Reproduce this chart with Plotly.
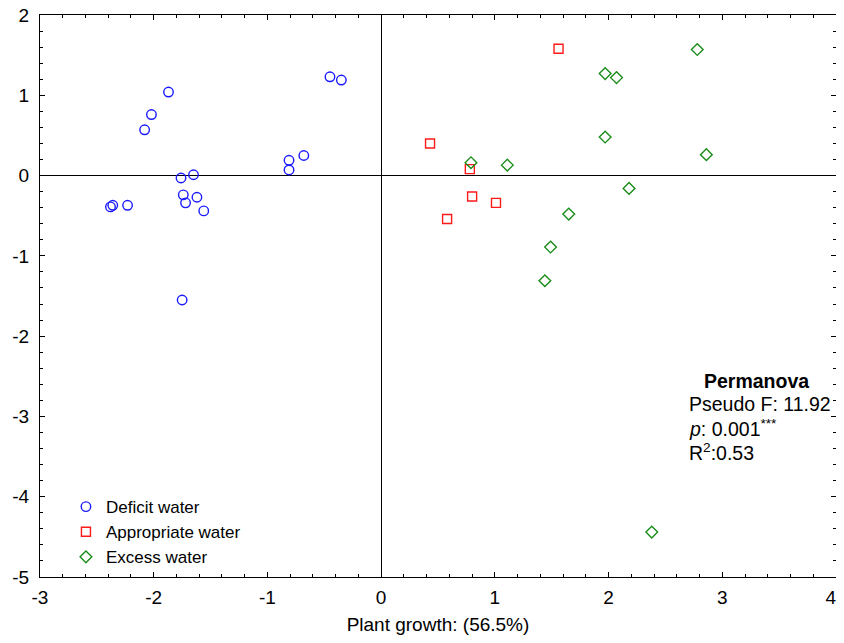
import plotly.graph_objects as go

# Deficit water
deficit_x = [-0.45, -0.35, -1.87, -2.02, -2.08, -0.68, -0.81, -0.81, -1.65, -1.76, -1.74, -1.62, -1.72, -1.56, -2.23, -2.36, -2.38, -1.75]
deficit_y = [1.23, 1.19, 1.04, 0.76, 0.57, 0.25, 0.19, 0.07, 0.01, -0.03, -0.24, -0.27, -0.34, -0.44, -0.37, -0.37, -0.39, -1.55]
# Appropriate water
approp_x = [1.56, 0.43, 0.78, 0.80, 1.01, 0.58]
approp_y = [1.58, 0.40, 0.08, -0.26, -0.34, -0.54]
# Excess water
excess_x = [2.78, 1.97, 2.07, 1.97, 2.86, 0.79, 1.11, 2.18, 1.65, 1.49, 1.44, 2.38]
excess_y = [1.57, 1.27, 1.22, 0.48, 0.26, 0.16, 0.13, -0.16, -0.48, -0.89, -1.31, -4.44]

x_ticks = [-3, -2, -1, 0, 1, 2, 3, 4]
x_tick_labels = ["-3", "-2", "-1", "0", "1", "2", "3", "4\u00a0\u00a0"]
y_ticks = [2, 1, 0, -1, -2, -3, -4, -5]

FONT = "Liberation Sans, Arial, sans-serif"

fig = go.Figure()
fig.add_trace(go.Scatter(x=deficit_x, y=deficit_y, mode="markers", name="Deficit water",
                         marker=dict(symbol="circle-open", size=9.5, color="#1a1aff", line=dict(width=1.4))))
fig.add_trace(go.Scatter(x=approp_x, y=approp_y, mode="markers", name="Appropriate water",
                         marker=dict(symbol="square-open", size=9, color="#ff1a1a", line=dict(width=1.4))))
fig.add_trace(go.Scatter(x=excess_x, y=excess_y, mode="markers", name="Excess water",
                         marker=dict(symbol="diamond-open", size=9, color="#1a8c1a", line=dict(width=1.4))))

axis_common = dict(
    showgrid=False, zeroline=True, zerolinecolor="black", zerolinewidth=1,
    showline=True, linecolor="black", linewidth=1.2, mirror="allticks",
    ticks="inside", ticklen=5, tickcolor="black", tickwidth=1,
    minor=dict(ticks="inside", ticklen=3, dtick=0.2, tickcolor="black", tickwidth=1),
    tickfont=dict(family=FONT, size=19, color="black"),
    automargin=False, ticklabeloverflow="allow",
)

fig.update_xaxes(range=[-3, 4], tickvals=x_ticks, ticktext=x_tick_labels,
                 ticklabelstandoff=3,
                 title=dict(text="Plant growth: (56.5%)", font=dict(family=FONT, size=19, color="black"), standoff=16),
                 **axis_common)
fig.update_yaxes(range=[-5, 2], tickvals=y_ticks, ticktext=[str(v) for v in y_ticks],
                 ticklabelstandoff=6, **axis_common)

ann_font = dict(family=FONT, size=19.5, color="black")
fig.add_annotation(x=3.30, y=-2.56, text="<b>Permanova</b>", showarrow=False,
                   xanchor="center", yanchor="middle", font=ann_font)
fig.add_annotation(x=2.69, y=-2.84, text="Pseudo F: 11.92", showarrow=False,
                   xanchor="left", yanchor="middle", font=ann_font)
fig.add_annotation(x=2.69, y=-3.14, text="<i>p</i>: 0.001<sup>***</sup>", showarrow=False,
                   xanchor="left", yanchor="middle", font=ann_font)
fig.add_annotation(x=2.69, y=-3.44, text="R<sup>2</sup>:0.53", showarrow=False,
                   xanchor="left", yanchor="middle", font=ann_font)

fig.update_layout(
    width=828, height=627,
    margin=dict(l=32, r=0, t=7, b=58),
    plot_bgcolor="white", paper_bgcolor="white",
    showlegend=True,
    legend=dict(x=0.0326, y=0.08, xanchor="left", yanchor="middle", bgcolor="rgba(0,0,0,0)",
                font=dict(family=FONT, size=17, color="black"), tracegroupgap=0, itemwidth=30),
)

fig.write_html("out.html")
